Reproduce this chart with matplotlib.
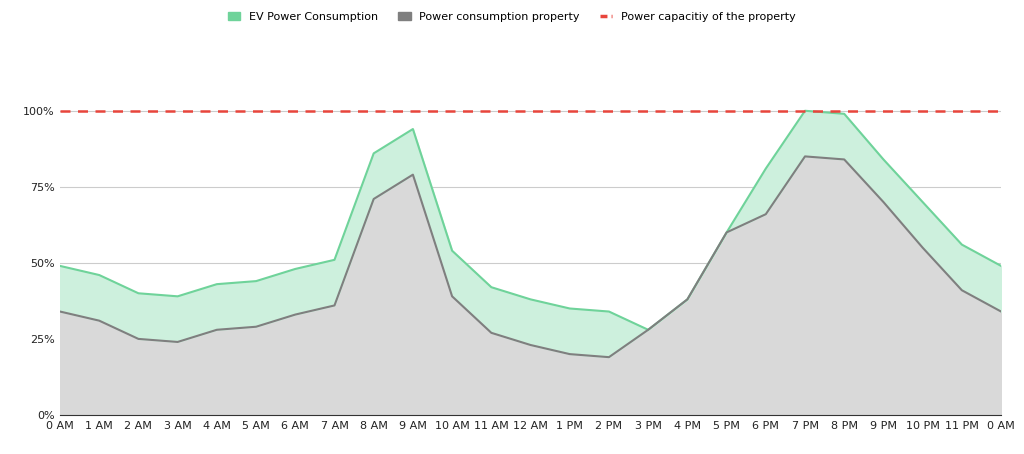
import matplotlib.pyplot as plt
from matplotlib.patches import Patch
from matplotlib.lines import Line2D

hours = ["0 AM", "1 AM", "2 AM", "3 AM", "4 AM", "5 AM", "6 AM", "7 AM", "8 AM", "9 AM",
         "10 AM", "11 AM", "12 AM", "1 PM", "2 PM", "3 PM", "4 PM", "5 PM", "6 PM", "7 PM",
         "8 PM", "9 PM", "10 PM", "11 PM", "0 AM"]
# total load including EV charging (%)
total_load = [49, 46, 40, 39, 43, 44, 48, 51, 86, 94, 54, 42, 38, 35, 34, 28, 38, 60, 81, 100,
              99, 84, 70, 56, 49]
# property load without EV (%)
property_load = [34, 31, 25, 24, 28, 29, 33, 36, 71, 79, 39, 27, 23, 20, 19, 28, 38, 60, 66, 85,
                 84, 70, 55, 41, 34]
capacity = 100

x = list(range(len(hours)))

fig = plt.figure(figsize=(10.24, 4.54), dpi=100)
ax = fig.add_axes([0.0586, 0.086, 0.919, 0.804])

ax.fill_between(x, 0, property_load, color="#d9d9d9", zorder=1)
ax.fill_between(x, property_load, total_load, color="#cdf0dd", zorder=1)
ax.plot(x, total_load, color="#6fd39a", lw=1.5, zorder=3)
ax.plot(x, property_load, color="#7f7f7f", lw=1.5, zorder=3)
ax.axhline(capacity, color="#e8453c", lw=1.8, ls=(0, (4, 3)), zorder=4)

ax.set_xlim(0, len(hours) - 1)
ax.set_ylim(0, 120)
ax.set_xticks(x)
ax.set_xticklabels(hours, fontsize=8, color="#222222")
ax.set_yticks([0, 25, 50, 75, 100])
ax.set_yticklabels(["0%", "25%", "50%", "75%", "100%"], fontsize=8, color="#222222")
ax.grid(axis="y", color="#cccccc", lw=0.8, zorder=0)
ax.set_axisbelow(True)
for s in ["top", "right", "left"]:
    ax.spines[s].set_visible(False)
ax.spines["bottom"].set_color("#333333")
ax.tick_params(length=0, pad=4)

handles = [Patch(color="#6fd39a", label="EV Power Consumption"),
           Patch(color="#7f7f7f", label="Power consumption property"),
           Line2D([], [], color="#e8453c", lw=2.5, ls=(0, (2, 1.2)), label="Power capacitiy of the property")]
fig.legend(handles=handles, loc="upper center", bbox_to_anchor=(0.5, 0.995), ncol=3,
           frameon=False, fontsize=8, handlelength=1.1, columnspacing=1.8)

fig.savefig("out.png", dpi=100)
